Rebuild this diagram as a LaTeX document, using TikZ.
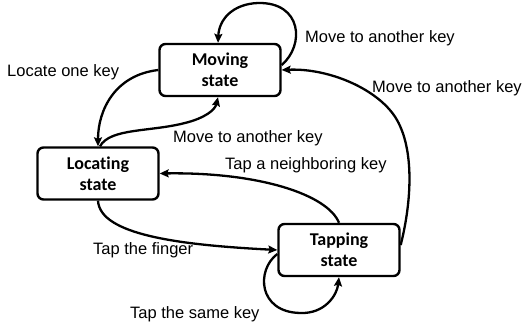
\documentclass[tikz,border=0pt]{standalone}
\usepackage{fontspec}
\setmainfont{Liberation Sans}
\newfontfamily\boxfont[Ligatures={NoCommon}]{Carlito}
\usetikzlibrary{arrows.meta}
\begin{document}
\begin{tikzpicture}[x=1pt,y=-1pt,
  state/.style={draw, line width=2.4pt, rounded corners=6pt, minimum width=121pt, minimum height=52pt, align=center, font=\boxfont\bfseries\fontsize{18}{21}\selectfont, inner sep=0pt},
  lbl/.style={font=\fontsize{16.5}{19}\selectfont, inner sep=0pt, anchor=west},
  conn/.style={line width=2.3pt, -{Stealth[length=9pt,width=8pt,inset=1.5pt]}}
]
\useasboundingbox (0,0) rectangle (531,323);
\node[state] (mov) at (220,70) {Moving\\state};
\node[state] (loc) at (98,173.5) {Locating\\state};
\node[state] (tap) at (339,250) {Tapping\\state};

\node[lbl] (l1) at (305,38) {Move to another key};
\node[lbl] (l2) at (372,88) {Move to another key};
\node[lbl] (l3) at (7,72) {Locate one key};
\node[lbl] (l4) at (173,138) {Move to another key};
\node[lbl] (l5) at (225,165) {Tap a neighboring key};
\node[lbl] (l6) at (93,250) {Tap the finger};
\node[lbl] (l7) at (130,314) {Tap the same key};

% Moving self loop
\draw[conn] ([yshift=5pt]mov.east) .. controls (305,45) and (302,2) .. (258,3) .. controls (232,4) and (219,20) .. ([xshift=-2pt]mov.north);
% Tapping -> Moving long arc
\draw[conn] ([yshift=5pt]tap.east) .. controls (412,200) and (414,150) .. (397,120) .. controls (380,90) and (330,68) .. (mov.east);
% Moving -> Locating
\draw[conn] (mov.west) .. controls (115,75) and (98,110) .. (loc.north);
% Locating -> Moving
\draw[conn] ([xshift=2pt]loc.north) .. controls (110,128) and (150,132) .. (185,123) .. controls (205,118) and (215,110) .. ([xshift=-2pt]mov.south);
% Tapping -> Locating
\draw[conn] (tap.north) .. controls (328,195) and (260,172) .. (loc.east);
% Locating -> Tapping
\draw[conn] (loc.south) .. controls (100,235) and (180,245) .. (tap.west);
% Tapping self loop
\draw[conn] ([yshift=-4pt]tap.west) .. controls (256,270) and (258,312) .. (300,313) .. controls (325,314) and (337,295) .. (tap.south);
\end{tikzpicture}
\end{document}
